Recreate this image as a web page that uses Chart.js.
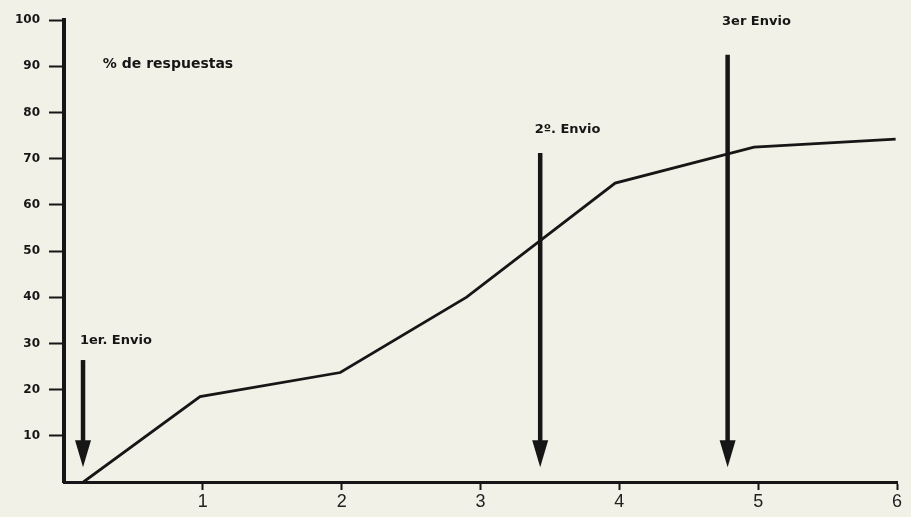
<!DOCTYPE html>
<html>
<head>
<meta charset="utf-8">
<script src="https://cdn.jsdelivr.net/npm/chart.js@4/dist/chart.umd.min.js"></script>
<style>
  html, body { margin: 0; padding: 0; background: #f1f1e7; }
  canvas { display: block; }
</style>
</head>
<body>
<canvas id="envios" width="911" height="517"></canvas>
<script>
// envio number (x) vs cumulative % of answers (y)
const envioX = [0.14, 0.98, 1.99, 2.9, 3.97, 4.97, 5.99];
const respuestas = [0, 18.5, 23.7, 40, 64.7, 72.5, 74.2];

const xTicks = [1, 2, 3, 4, 5, 6];
const yTicks = [10, 20, 30, 40, 50, 60, 70, 80, 90, 100];

// the three mailing arrows: where they sit and how far they reach
const arrowX = [0.137, 3.43, 4.78];
const arrowTop = [26.4, 71.2, 92.5];
const arrowTip = [3.2, 3.2, 3.2];
const arrowLabels = ['1er. Envio', '2º. Envio', '3er Envio'];
const labelX = [0.115, 3.39, 4.74];
const labelY = [30.7, 76.2, 99.6];

const yTitle = '% de respuestas';
const yTitleX = 0.28;
const yTitleY = 90.3;

const ink = '#161616';

const arrowPlugin = {
  id: 'arrows',
  afterDatasetsDraw(chart) {
    const { ctx, scales: { x, y } } = chart;
    ctx.save();
    ctx.fillStyle = ink;
    ctx.strokeStyle = ink;
    for (let i = 0; i < arrowX.length; i++) {
      const px = x.getPixelForValue(arrowX[i]);
      const top = y.getPixelForValue(arrowTop[i]);
      const tip = y.getPixelForValue(arrowTip[i]);
      const headLen = 27, headW = 8;
      ctx.lineWidth = 4.5;
      ctx.beginPath();
      ctx.moveTo(px, top);
      ctx.lineTo(px, tip - headLen + 2);
      ctx.stroke();
      ctx.beginPath();
      ctx.moveTo(px - headW, tip - headLen);
      ctx.lineTo(px + headW, tip - headLen);
      ctx.lineTo(px, tip);
      ctx.closePath();
      ctx.fill();
    }
    ctx.font = 'bold 13px "DejaVu Sans"';
    ctx.textBaseline = 'middle';
    ctx.textAlign = 'left';
    for (let i = 0; i < arrowLabels.length; i++) {
      ctx.fillText(arrowLabels[i], x.getPixelForValue(labelX[i]), y.getPixelForValue(labelY[i]));
    }
    ctx.font = 'bold 14px "DejaVu Sans"';
    ctx.fillText(yTitle, x.getPixelForValue(yTitleX), y.getPixelForValue(yTitleY));
    ctx.restore();
  }
};

new Chart(document.getElementById('envios'), {
  type: 'line',
  data: {
    datasets: [{
      label: yTitle,
      data: envioX.map((v, i) => ({ x: v, y: respuestas[i] })),
      borderColor: ink,
      borderWidth: 2.8,
      pointRadius: 0,
      tension: 0,
      fill: false
    }]
  },
  options: {
    responsive: false,
    animation: false,
    layout: { padding: { top: 20, right: 14, left: 0, bottom: 0 } },
    plugins: { legend: { display: false }, tooltip: { enabled: false } },
    scales: {
      x: {
        type: 'linear', min: 0, max: 6,
        afterFit: s => { s.height = 35; },
        afterBuildTicks: s => { s.ticks = [0].concat(xTicks).map(v => ({ value: v })); },
        border: { display: true, width: 3, color: ink },
        grid: {
          drawOnChartArea: false, tickLength: 8, tickWidth: 2,
          tickColor: c => c.tick && c.tick.value === 0 ? 'rgba(0,0,0,0)' : ink
        },
        ticks: {
          padding: 1, color: '#222',
          font: { family: '"Liberation Sans"', size: 18 },
          callback: v => v === 0 ? '' : v
        }
      },
      y: {
        min: 0, max: 100,
        afterFit: s => { s.width = 64; },
        afterBuildTicks: s => { s.ticks = [0].concat(yTicks).map(v => ({ value: v })); },
        border: { display: true, width: 4, color: ink },
        grid: {
          drawOnChartArea: false, tickLength: 15, tickWidth: 2,
          tickColor: c => c.tick && c.tick.value === 0 ? 'rgba(0,0,0,0)' : ink
        },
        ticks: {
          padding: 9, color: ink,
          font: { family: '"DejaVu Sans"', size: 12, weight: 'bold' },
          callback: v => v === 0 ? '' : v
        }
      }
    }
  },
  plugins: [arrowPlugin]
});
</script>
</body>
</html>
